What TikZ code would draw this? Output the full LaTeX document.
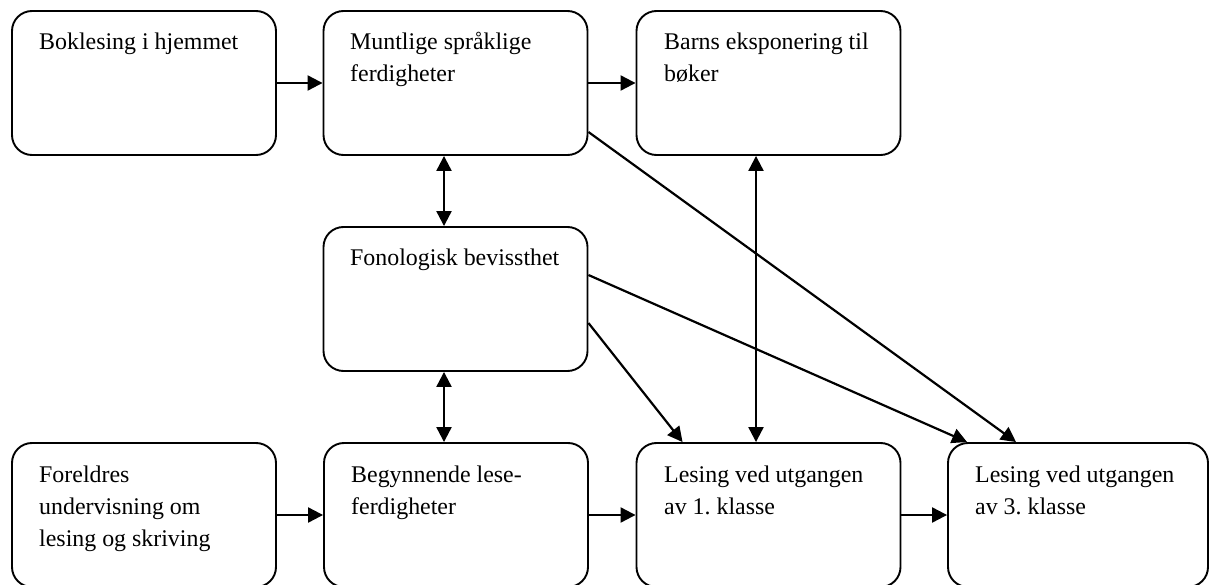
\documentclass[tikz,border=0pt]{standalone}
\usepackage{fontspec}
\setmainfont{Liberation Serif}
\usetikzlibrary{arrows.meta,calc}
\frenchspacing
\tikzset{
  box/.style={draw, line width=1.9pt, rounded corners=20pt, minimum width=264pt, minimum height=144pt, inner sep=0pt},
  txt/.style={anchor=base west, inner sep=0pt, font=\fontsize{23.9pt}{32pt}\selectfont},
  tip/.tip={Triangle[length=15pt,width=15pt]},
  conn/.style={line width=2.2pt, -tip},
  biconn/.style={line width=2.2pt, tip-tip}
}
\begin{document}
\begin{tikzpicture}[x=1pt,y=-1pt]
\useasboundingbox (0,0) rectangle (1210,585);
% boxes
\node[box] (b1) at (144,83) {};
\node[box] (b2) at (455.5,83) {};
\node[box] (b3) at (768.5,83) {};
\node[box] (fon) at (455.5,299) {};
\node[box] (f) at (144,515) {};
\node[box] (beg) at (456,515) {};
\node[box] (l1) at (768.5,515) {};
\node[box, minimum width=260pt] (l3) at (1078,515) {};
% texts
\node[txt] (t1) at (39,50) {Boklesing i hjemmet};
\node[txt] (t2) at (350,50) {\vtop{\hbox{Muntlige språklige}\hbox{ferdigheter}}};
\node[txt] (t3) at (664,50) {\vtop{\hbox{Barns eksponering til}\hbox{bøker}}};
\node[txt] (t4) at (350,266) {Fonologisk bevissthet};
\node[txt] (t5) at (39,482) {\vtop{\hbox{Foreldres}\hbox{undervisning om}\hbox{lesing og skriving}}};
\node[txt] (t6) at (351,482) {\vtop{\hbox{Begynnende lese-}\hbox{ferdigheter}}};
\node[txt] (t7) at (664,482) {\vtop{\hbox{Lesing ved utgangen}\hbox{av 1. klasse}}};
\node[txt] (t8) at (975,482) {\vtop{\hbox{Lesing ved utgangen}\hbox{av 3. klasse}}};
% horizontal arrows
\draw[conn] (b1.east) -- (b2.west);
\draw[conn] (b2.east) -- (b3.west);
\draw[conn] (f.east) -- (beg.west);
\draw[conn] (beg.east) -- (l1.west);
\draw[conn] (l1.east) -- (l3.west);
% vertical double arrows
\draw[biconn] (b2.south -| 444,0) -- (fon.north -| 444,0);
\draw[biconn] (fon.south -| 444,0) -- (beg.north -| 444,0);
\draw[biconn] (b3.south -| 756,0) -- (l1.north -| 756,0);
% diagonal arrows
\draw[conn] ($(b2.east)+(0,49)$) -- ($(l3.north west)+(69,0)$);
\draw[conn] ($(fon.east)+(0,-24)$) -- ($(l3.north west)+(20,0)$);
\draw[conn] ($(fon.east)+(0,24)$) -- ($(l1.north west)+(47,0)$);
\end{tikzpicture}
\end{document}
